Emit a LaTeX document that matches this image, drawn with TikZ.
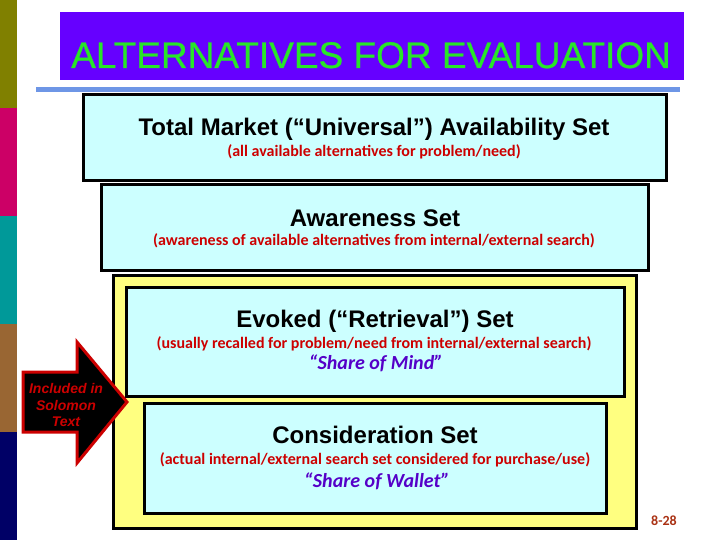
\documentclass[tikz,border=0pt]{standalone}
\usepackage{fontspec}
\setmainfont{Liberation Sans}
\newfontfamily\calfont{Carlito}
\newfontfamily\titlefont{Liberation Sans}[FakeBold=0.7]
\definecolor{olivebar}{RGB}{128,128,0}
\definecolor{magbar}{RGB}{204,0,102}
\definecolor{tealbar}{RGB}{0,153,153}
\definecolor{brownbar}{RGB}{153,102,51}
\definecolor{navybar}{RGB}{0,0,102}
\definecolor{titlebg}{RGB}{102,0,255}
\definecolor{titlefg}{RGB}{40,230,40}
\definecolor{ruleblue}{RGB}{110,150,230}
\definecolor{boxcyan}{RGB}{204,255,255}
\definecolor{boxyellow}{RGB}{255,255,128}
\definecolor{subred}{RGB}{204,0,0}
\definecolor{sharepurple}{RGB}{85,0,200}
\definecolor{pagered}{RGB}{170,50,20}
\begin{document}
\begin{tikzpicture}[x=1pt,y=-1pt,
  setbox/.style={draw=black,line width=3pt,fill=boxcyan,inner sep=0pt},
  heading/.style={anchor=base,inner sep=0pt,font=\fontsize{24}{28}\selectfont\bfseries},
  subline/.style={anchor=base,inner sep=0pt,text=subred,font=\calfont\fontsize{16}{19}\selectfont\bfseries},
  shareline/.style={anchor=base,inner sep=0pt,text=sharepurple,font=\calfont\fontsize{20}{23}\selectfont\bfseries\itshape},
  arrowtext/.style={anchor=base,inner sep=0pt,text=subred,font=\fontsize{14}{16.5}\selectfont\bfseries\itshape}]
\useasboundingbox (0,0) rectangle (720,540);
\fill[white] (0,0) rectangle (720,540);
% left colour bar
\fill[olivebar] (0,0) rectangle (17,108);
\fill[magbar] (0,108) rectangle (17,216);
\fill[tealbar] (0,216) rectangle (17,324);
\fill[brownbar] (0,324) rectangle (17,432);
\fill[navybar] (0,432) rectangle (17,540);
% title
\node[fill=titlebg,minimum width=624pt,minimum height=68pt,inner sep=0pt] (titlebox) at (372,46) {};
\node[anchor=base,inner sep=0pt,text=titlefg,font=\titlefont\fontsize{37}{41}\selectfont] (title) at (371,68) {ALTERNATIVES FOR EVALUATION};
\fill[ruleblue] (36,87) rectangle (680,92);
% boxes
\node[setbox,minimum width=583pt,minimum height=86pt] (total) at (374.5,138) {};
\node[setbox,minimum width=547pt,minimum height=85pt] (aware) at (374.5,227.5) {};
\node[draw=black,line width=3pt,fill=boxyellow,minimum width=523pt,minimum height=253pt,inner sep=0pt] (yellow) at (374.5,401.5) {};
\node[setbox,minimum width=498pt,minimum height=109pt] (evoked) at (375,341.5) {};
\node[setbox,minimum width=462pt,minimum height=110pt] (consid) at (375,458) {};
% texts
\node[heading] (totalh) at (374,136) {Total Market (“Universal”) Availability Set};
\node[subline] (totals) at (374,157) {(all available alternatives for problem/need)};
\node[heading] (awareh) at (375,226) {Awareness Set};
\node[subline] (awares) at (374,245) {(awareness of available alternatives from internal/external search)};
\node[heading] (evokedh) at (375,327) {Evoked (“Retrieval”) Set};
\node[subline] (evokeds) at (374,348) {(usually recalled for problem/need from internal/external search)};
\node[shareline] (mind) at (376,369) {“Share of Mind”};
\node[heading] (considh) at (375,443) {Consideration Set};
\node[subline] (consids) at (375,464) {(actual internal/external search set considered for purchase/use)};
\node[shareline] (wallet) at (377,487) {“Share of Wallet”};
% arrow
\draw[fill=black,draw=subred,line width=3pt,line join=miter] (23,372) -- (77,372) -- (77,342) -- (127,402) -- (77,463) -- (77,432) -- (23,432) -- cycle;
\node[arrowtext] (incl1) at (66,393) {Included in};
\node[arrowtext] (incl2) at (66,410) {Solomon};
\node[arrowtext] (incl3) at (66,426) {Text};
% page number
\node[anchor=base,inner sep=0pt,text=pagered,font=\calfont\fontsize{14}{16}\selectfont\bfseries] (page) at (664,525) {8-28};
\end{tikzpicture}
\end{document}
